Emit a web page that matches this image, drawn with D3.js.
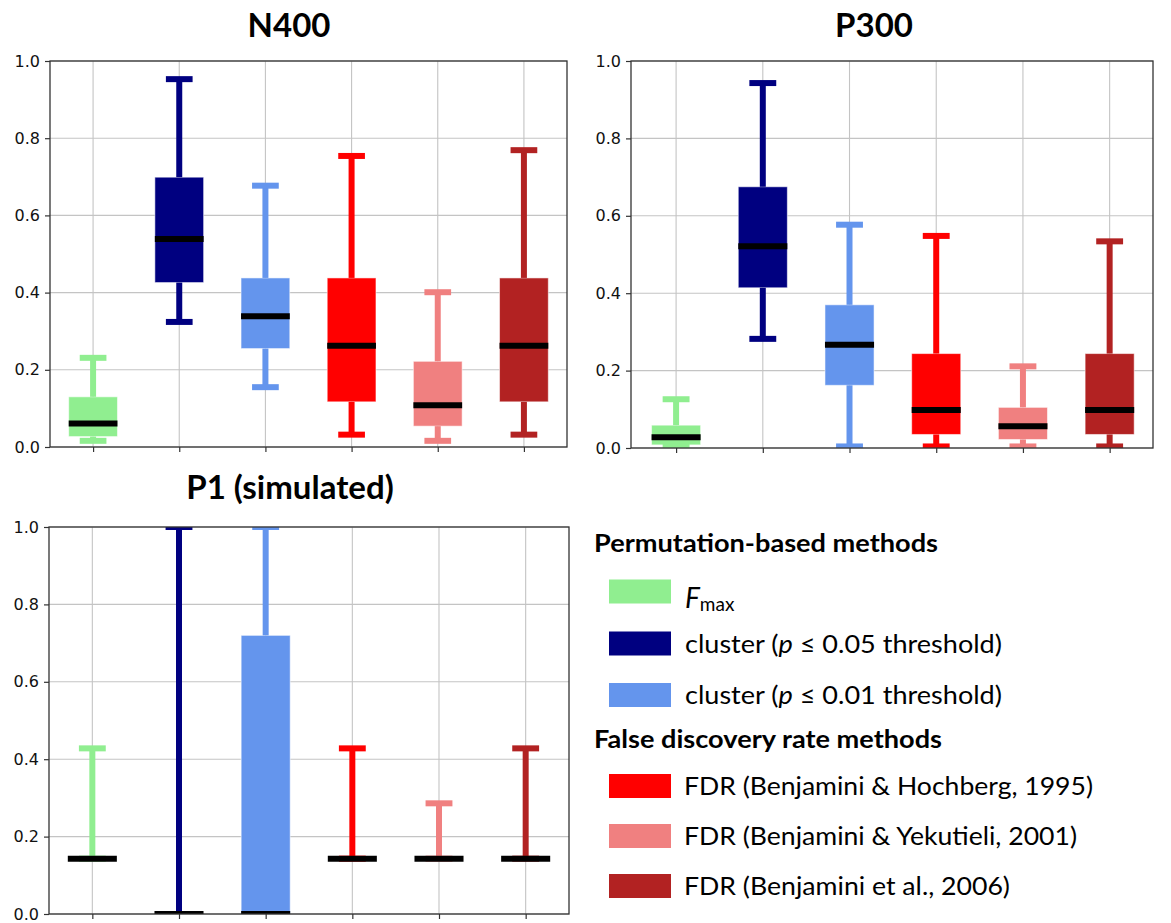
<!DOCTYPE html>
<html>
<head>
<meta charset="utf-8">
<script src="https://d3js.org/d3.v7.min.js"></script>
<style>
  body { margin: 0; background: #fff; }
  svg { display: block; }
</style>
</head>
<body>
<script>
// methods in plotting order
const methods = ['Fmax', 'cluster p<=0.05', 'cluster p<=0.01', 'FDR BH', 'FDR BY', 'FDR BKY'];
const methodColors = ['#90ee90', '#000080', '#6495ed', '#ff0000', '#f08080', '#b22222'];

// N400 box stats (whisker low, q1, median, q3, whisker high)
const n400Low  = [0.016, 0.324, 0.155, 0.032, 0.016, 0.032];
const n400Q1   = [0.027, 0.426, 0.255, 0.117, 0.054, 0.117];
const n400Med  = [0.061, 0.539, 0.339, 0.262, 0.108, 0.262];
const n400Q3   = [0.130, 0.699, 0.438, 0.438, 0.222, 0.438];
const n400High = [0.231, 0.953, 0.677, 0.754, 0.401, 0.769];

// P300
const p300Low  = [0.004, 0.282, 0.004, 0.004, 0.004, 0.004];
const p300Q1   = [0.008, 0.414, 0.162, 0.035, 0.022, 0.035];
const p300Med  = [0.028, 0.521, 0.267, 0.098, 0.056, 0.098];
const p300Q3   = [0.059, 0.675, 0.370, 0.244, 0.105, 0.244];
const p300High = [0.126, 0.943, 0.577, 0.548, 0.211, 0.534];

// P1 (simulated)
const p1Low  = [0.143, 0, 0, 0.143, 0.143, 0.143];
const p1Q1   = [0.143, 0, 0, 0.143, 0.143, 0.143];
const p1Med  = [0.143, 0, 0, 0.143, 0.143, 0.143];
const p1Q3   = [0.143, 0, 0.72, 0.143, 0.143, 0.143];
const p1High = [0.428, 1.0, 1.0, 0.428, 0.286, 0.428];

const yTicks = [0, 0.2, 0.4, 0.6, 0.8, 1.0];

const width = 1171, height = 923;
const boxHalf = 0.283, capHalf = 0.155;

const svg = d3.select('body').append('svg')
  .attr('width', width)
  .attr('height', height);

const panels = [
  { id: 'n400', title: 'N400', low: n400Low, q1: n400Q1, med: n400Med, q3: n400Q3, high: n400High,
    left: 50, right: 567, top: 61, bottom: 447, dom: [0.5, 6.5], titleX: 289, titleY: 37 },
  { id: 'p300', title: 'P300', low: p300Low, q1: p300Q1, med: p300Med, q3: p300Q3, high: p300High,
    left: 631, right: 1153, top: 61, bottom: 448, dom: [0.48, 6.5], titleX: 874, titleY: 37 },
  { id: 'p1', title: 'P1 (simulated)', low: p1Low, q1: p1Q1, med: p1Med, q3: p1Q3, high: p1High,
    left: 49, right: 569, top: 527, bottom: 914, dom: [0.5, 6.5], titleX: 290, titleY: 499 }
];

panels.forEach(p => drawPanel(p));

function drawPanel(p) {
  let x = d3.scaleLinear().domain(p.dom).range([p.left, p.right]);
  let y = d3.scaleLinear().domain([0, 1]).range([p.bottom, p.top]);
  let g = svg.append('g').attr('class', 'panel-' + p.id);

  g.append('clipPath').attr('id', 'clip-' + p.id)
    .append('rect')
    .attr('x', p.left).attr('y', p.top)
    .attr('width', p.right - p.left).attr('height', p.bottom - p.top);

  // grid
  g.append('g').selectAll('line.hgrid')
    .data(yTicks).enter().append('line')
    .attr('x1', p.left).attr('x2', p.right)
    .attr('y1', d => y(d)).attr('y2', d => y(d))
    .attr('stroke', '#c4c4c4').attr('stroke-width', 1.1);
  g.append('g').selectAll('line.vgrid')
    .data(methods).enter().append('line')
    .attr('x1', (d, i) => x(i + 1)).attr('x2', (d, i) => x(i + 1))
    .attr('y1', p.top).attr('y2', p.bottom)
    .attr('stroke', '#c4c4c4').attr('stroke-width', 1.1);

  const stats = methods.map((m, i) => ({
    i: i, color: methodColors[i],
    low: p.low[i], q1: p.q1[i], med: p.med[i], q3: p.q3[i], high: p.high[i]
  }));

  let marks = g.append('g').attr('clip-path', 'url(#clip-' + p.id + ')');

  // boxes
  marks.selectAll('rect.box')
    .data(stats).enter().append('rect')
    .attr('class', 'box')
    .attr('x', d => x(d.i + 1 - boxHalf))
    .attr('width', d => x(d.i + 1 + boxHalf) - x(d.i + 1 - boxHalf))
    .attr('y', d => y(d.q3))
    .attr('height', d => y(d.q1) - y(d.q3))
    .attr('fill', d => d.color)
    .attr('stroke', d => d.q3 > d.q1 ? '#ffffff' : 'none')
    .attr('stroke-opacity', 0.55)
    .attr('stroke-width', 1);

  // whiskers
  ['high', 'low'].forEach(k => {
    const from = k === 'high' ? 'q3' : 'q1';
    marks.selectAll('line.wh-' + k)
      .data(stats).enter().append('line')
      .attr('x1', d => x(d.i + 1)).attr('x2', d => x(d.i + 1))
      .attr('y1', d => y(d[from])).attr('y2', d => y(d[k]))
      .attr('stroke', d => d.color).attr('stroke-width', 6);
    marks.selectAll('line.cap-' + k)
      .data(stats).enter().append('line')
      .attr('x1', d => x(d.i + 1 - capHalf)).attr('x2', d => x(d.i + 1 + capHalf))
      .attr('y1', d => y(d[k])).attr('y2', d => y(d[k]))
      .attr('stroke', d => d.color).attr('stroke-width', 6);
  });

  // medians
  marks.selectAll('line.median')
    .data(stats).enter().append('line')
    .attr('x1', d => x(d.i + 1 - boxHalf)).attr('x2', d => x(d.i + 1 + boxHalf))
    .attr('y1', d => y(d.med)).attr('y2', d => y(d.med))
    .attr('stroke', '#000').attr('stroke-width', 6);

  // axes
  let yAxis = g.append('g')
    .attr('transform', `translate(${p.left},0)`)
    .call(d3.axisLeft(y).tickValues(yTicks).tickFormat(d3.format('.1f')).tickSize(5).tickPadding(5));
  yAxis.select('.domain').remove();
  yAxis.selectAll('text')
    .style('font-family', '"DejaVu Sans", sans-serif')
    .style('font-size', '16px')
    .attr('fill', '#111');
  yAxis.selectAll('line').attr('stroke', '#333').attr('stroke-width', 1.2);

  let xAxis = g.append('g')
    .attr('transform', `translate(0,${p.bottom})`)
    .call(d3.axisBottom(x).tickValues(methods.map((m, i) => i + 1)).tickFormat('').tickSize(5));
  xAxis.select('.domain').remove();
  xAxis.selectAll('line').attr('stroke', '#333').attr('stroke-width', 1.2);

  // frame
  g.append('rect')
    .attr('x', p.left).attr('y', p.top)
    .attr('width', p.right - p.left).attr('height', p.bottom - p.top)
    .attr('fill', 'none')
    .attr('stroke', '#333').attr('stroke-width', 1.3);

  // title
  g.append('text')
    .attr('x', p.titleX).attr('y', p.titleY)
    .attr('text-anchor', 'middle')
    .style('font-family', 'Lato, "Open Sans", sans-serif')
    .style('font-weight', 'bold')
    .style('font-size', '33px')
    .text(p.title);
}

// legend
const legendGroups = [
  { heading: 'Permutation-based methods', headY: 552, headW: 344, items: [0, 1, 2] },
  { heading: 'False discovery rate methods', headY: 748, headW: 348, items: [3, 4, 5] }
];
const legendRowsY = [591.5, 643.5, 695, 786, 836, 886];
const legendTextW = [null, 317, 317, 409, 393, 326];

let legend = svg.append('g').attr('class', 'legend')
  .style('font-family', 'Lato, "Open Sans", sans-serif');

legendGroups.forEach(grp => {
  legend.append('text')
    .attr('x', 594).attr('y', grp.headY)
    .style('font-weight', 'bold')
    .style('font-size', '25px')
    .attr('textLength', grp.headW)
    .attr('lengthAdjust', 'spacingAndGlyphs')
    .text(grp.heading);

  grp.items.forEach(i => {
    const cy = legendRowsY[i];
    legend.append('rect')
      .attr('x', 609).attr('y', cy - 12)
      .attr('width', 62).attr('height', 24)
      .attr('fill', methodColors[i]);

    let t = legend.append('text')
      .attr('x', i < 3 ? 685 : 684)
      .attr('y', cy + 9)
      .style('font-size', '25px')
      .attr('fill', '#000');

    if (i === 0) {
      t.attr('y', cy + 16);
      t.append('tspan').style('font-style', 'italic').style('font-size', '28px').text('F');
      t.append('tspan').attr('dy', 3).style('font-size', '19px').text('max');
    } else if (i === 1 || i === 2) {
      t.append('tspan').text('cluster (');
      t.append('tspan').style('font-style', 'italic').text('p');
      t.append('tspan').text(i === 1 ? ' ≤ 0.05 threshold)' : ' ≤ 0.01 threshold)');
      t.attr('textLength', legendTextW[i]).attr('lengthAdjust', 'spacingAndGlyphs');
    } else {
      const labels = ['FDR (Benjamini & Hochberg, 1995)', 'FDR (Benjamini & Yekutieli, 2001)', 'FDR (Benjamini et al., 2006)'];
      t.text(labels[i - 3])
        .attr('textLength', legendTextW[i]).attr('lengthAdjust', 'spacingAndGlyphs');
    }
  });
});
</script>
</body>
</html>
